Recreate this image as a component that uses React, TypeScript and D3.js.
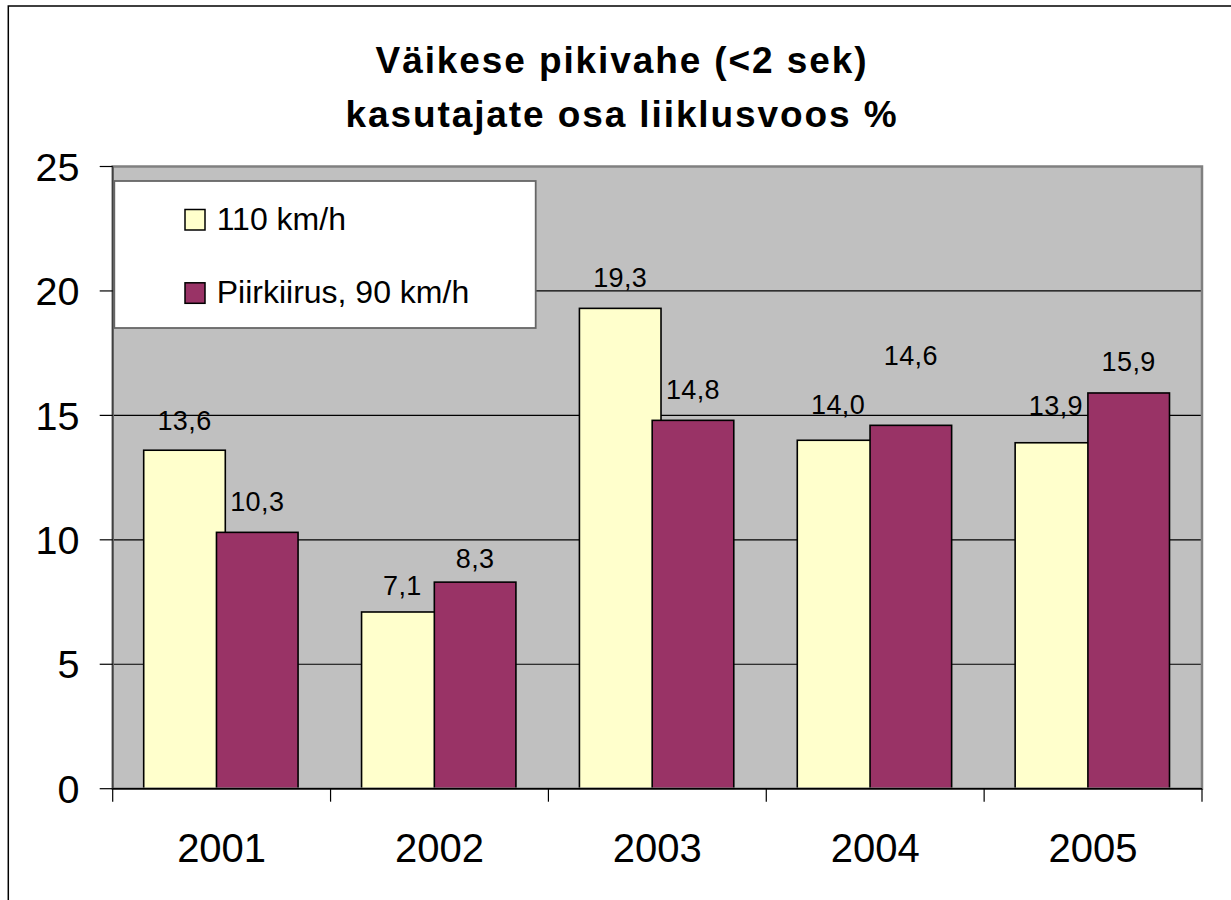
import React from "react";
import * as d3 from "d3";

const years = ["2001", "2002", "2003", "2004", "2005"];
const series110 = [13.6, 7.1, 19.3, 14.0, 13.9];
const seriesLimit = [10.3, 8.3, 14.8, 14.6, 15.9];
const seriesNames = ["110 km/h", "Piirkiirus, 90 km/h"];
const yTicks = [0, 5, 10, 15, 20, 25];
const titleLines = ["Väikese pikivahe (<2 sek)", "kasutajate osa liiklusvoos %"];

const FONT = "'Liberation Sans', Arial, Helvetica, sans-serif";

export default function App() {
  const W = 1231;
  const H = 900;
  const left = 112.7;
  const right = 1202;
  const top = 166.5;
  const bottom = 788.7;

  const x = d3.scaleBand<string>().domain(years).range([left, right]).padding(0);
  const y = d3.scaleLinear().domain([0, 25]).range([bottom, top]);
  const bw = x.bandwidth();
  const gap = bw * 0.1423;
  const barW = bw * 0.3745;
  const step = bw * 0.334;

  const colors = ["#FFFFCC", "#993366"];
  const seriesData = [series110, seriesLimit];
  // label baseline offsets above bar top (labels were placed by hand in the original)
  const labelDy = [
    [20, 17, 21, 26, 28],
    [21, 14, 21, 60, 22],
  ];

  const fmt = (v: number) => v.toFixed(1).replace(".", ",");

  return (
    <svg width={W} height={H} style={{ display: "block", position: "absolute", left: 0, top: 0 }}>
      <rect x={0} y={0} width={W} height={H} fill="#fff" />
      <rect x={8.3} y={6} width={W + 20} height={H + 20} fill="#fff" stroke="#000" strokeWidth={1.5} />

      {/* title */}
      {titleLines.map((t, i) => (
        <text
          key={i}
          x={622}
          y={73.3 + i * 54}
          textAnchor="middle"
          fontFamily={FONT}
          fontWeight="bold"
          fontSize={37}
          letterSpacing={1.9}
          fill="#000"
        >
          {t}
        </text>
      ))}

      {/* plot area */}
      <rect x={left} y={top} width={right - left} height={bottom - top} fill="#C0C0C0" />

      {/* gridlines */}
      {yTicks.filter((t) => t > 0).map((t) => (
        <line key={t} x1={left} x2={right} y1={y(t)} y2={y(t)} stroke="#000" strokeWidth={1.2} />
      ))}

      {/* bars */}
      {years.map((yr, i) =>
        seriesData.map((s, si) => {
          const bx = (x(yr) as number) + gap + si * step;
          return (
            <rect
              key={yr + si}
              x={bx}
              y={y(s[i])}
              width={barW}
              height={y(0) - y(s[i])}
              fill={colors[si]}
              stroke="#000"
              strokeWidth={1.6}
            />
          );
        })
      )}

      {/* data labels */}
      {years.map((yr, i) =>
        seriesData.map((s, si) => {
          const cx = (x(yr) as number) + gap + si * step + barW / 2;
          return (
            <text
              key={"l" + yr + si}
              x={cx}
              y={y(s[i]) - labelDy[si][i]}
              textAnchor="middle"
              fontFamily={FONT}
              fontSize={27}
              letterSpacing={0.4}
              fill="#000"
            >
              {fmt(s[i])}
            </text>
          );
        })
      )}

      {/* plot border */}
      <rect x={left} y={top} width={right - left} height={bottom - top} fill="none" stroke="#808080" strokeWidth={2.5} />

      {/* axes */}
      <line x1={left} x2={left} y1={top} y2={bottom} stroke="#404040" strokeWidth={1.5} />
      <line x1={left} x2={right} y1={bottom} y2={bottom} stroke="#000" strokeWidth={1.5} />
      {yTicks.map((t) => (
        <g key={"yt" + t}>
          <line x1={left - 13} x2={left} y1={y(t)} y2={y(t)} stroke="#000" strokeWidth={1.2} />
          <text
            x={79.5}
            y={y(t)}
            dy="0.36em"
            textAnchor="end"
            fontFamily={FONT}
            fontSize={39.5}
            fill="#000"
          >
            {t}
          </text>
        </g>
      ))}
      {[...years.map((yr) => x(yr) as number), right].map((tx, i) => (
        <line key={"xt" + i} x1={tx} x2={tx} y1={bottom} y2={bottom + 13} stroke="#000" strokeWidth={1.2} />
      ))}
      {years.map((yr) => (
        <text
          key={"xl" + yr}
          x={(x(yr) as number) + bw / 2}
          y={862.3}
          textAnchor="middle"
          fontFamily={FONT}
          fontSize={40}
          fill="#000"
        >
          {yr}
        </text>
      ))}

      {/* legend */}
      <rect x={114.3} y={181} width={421.4} height={147} fill="#fff" stroke="#666" strokeWidth={1.8} />
      {seriesNames.map((n, i) => (
        <g key={"lg" + i}>
          <rect
            x={185}
            y={209.5 + i * 73.3}
            width={20}
            height={20.5}
            fill={colors[i]}
            stroke="#000"
            strokeWidth={1.5}
          />
          <text x={216.7} y={230 + i * 73.3} fontFamily={FONT} fontSize={32} fill="#000">
            {n}
          </text>
        </g>
      ))}
    </svg>
  );
}
